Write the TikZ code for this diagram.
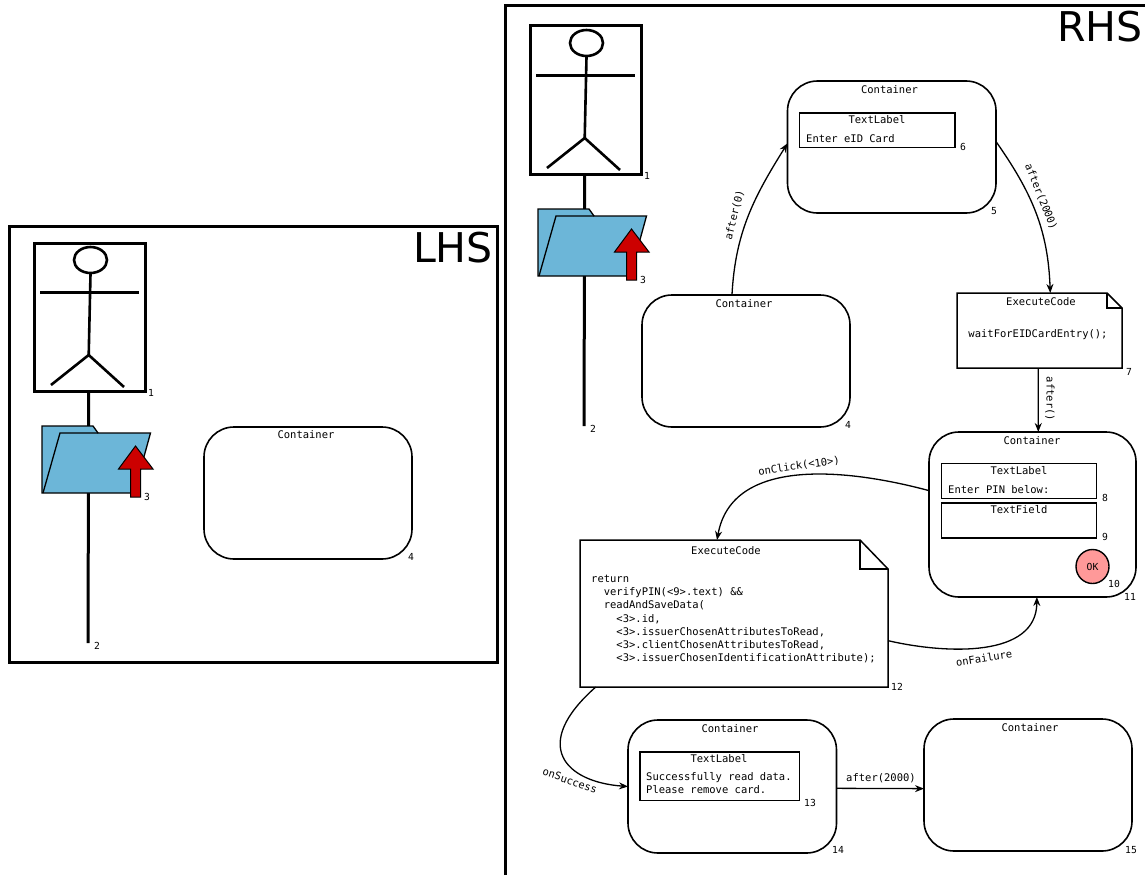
\documentclass[tikz,border=0pt]{standalone}
\usepackage{fontspec}
\setmainfont{DejaVu Sans}
\setmonofont{DejaVu Sans Mono}
\usepackage{xcolor}
\usepackage{tikz}
\usetikzlibrary{arrows.meta, calc, shapes.geometric}
\definecolor{myblue}{RGB}{108,182,216}
\definecolor{myred}{RGB}{204,0,0}
\definecolor{mypink}{RGB}{255,153,153}
\tikzset{
  framebox/.style={line width=3pt},
  sidelabel/.style={font=\fontsize{41}{41}\selectfont, inner sep=0pt, anchor=east},
  containerbox/.style={draw, rounded corners=30pt, line width=1.6pt, inner sep=0pt, outer sep=0pt},
  widgetbox/.style={draw, line width=1.8pt, inner sep=0pt, outer sep=0pt},
  notebox/.style={inner sep=0pt, outer sep=0pt},
  notefold/.style={line width=1.5pt, line join=miter},
  boxsize/.style 2 args={minimum width=#1pt, minimum height=#2pt},
  codetext/.style={font=\ttfamily\fontsize{10.5}{13.2}\selectfont, inner sep=0pt},
  numtext/.style={font=\ttfamily\fontsize{9.7}{10}\selectfont, inner sep=0pt},
  edgelabel/.style={font=\ttfamily\fontsize{10.5}{12}\selectfont, inner sep=0pt},
  transition/.style={-{Stealth[length=9pt,width=7pt]}, line width=1.3pt},
  actorfolder/.pic={
    % Actor
    \draw[line width=3pt] (34,243) rectangle (145,391);
    \draw[line width=2.6pt] (90.5,260) ellipse [x radius=16.5, y radius=13];
    \draw[line width=2.6pt] (90.5,274) -- (88.7,355);
    \draw[line width=2.6pt] (40,292.5) -- (139,292.5);
    \draw[line width=2.6pt] (51,385) -- (88.7,355) -- (124,387);
    % Lifeline
    \draw[line width=3pt] (88.7,391) -- (88,643);
    % Folder
    \draw[fill=myblue, line width=1.3pt] (42,493) -- (42,426) -- (93,426) -- (98,433) -- (150.5,433)
      -- (134,493) -- cycle;
    \draw[line width=1.3pt] (43,493) -- (60,433) -- (98,433);
    % Red arrow
    \draw[fill=myred, line width=1pt] (130.5,497) -- (130.5,469) -- (118.5,469) -- (135.5,446)
      -- (153,469) -- (140.5,469) -- (140.5,497) -- cycle;
    \node[numtext] (num1) at (151,393) {1};
    \node[numtext] (num2) at (97,646) {2};
    \node[numtext] (num3) at (147,497) {3};
  },
}
% Folded note outline around a node
\newcommand{\dogear}[3]{
  \draw[notefold] (#1.south west) -- (#1.north west) -- ($(#1.north east)+(-#2,0)$)
    -- ($(#1.north east)+(0,#3)$) -- (#1.south east) -- cycle;
  \draw[notefold] ($(#1.north east)+(-#2,0)$) -- ($(#1.north east)+(-#2,#3)$)
    -- ($(#1.north east)+(0,#3)$);
}

\begin{document}
\begin{tikzpicture}[x=1pt, y=-1pt]
    \useasboundingbox (0,0) rectangle (1145,875);

    % LHS frame
    \draw[framebox] (9,226) rectangle (497,662);
    \node[sidelabel] (lhs) at (493,248) {LHS};
    \pic (lhsactor) at (0,0) {actorfolder};
    \node[containerbox, boxsize={208}{132}] (lcont4) at (308,493) {};
    \node[codetext] (ltitle4) at (306,435) {Container};
    \node[numtext] (lnum4) at (411,557) {4};

    % RHS frame
    \draw[framebox] (505,875) -- (505,6) -- (1145,6);
    \node[sidelabel] (rhs) at (1143,27) {RHS};
    \pic (rhsactor) at (496,-217) {actorfolder};

    % Container 4
    \node[containerbox, boxsize={208}{132}] (cont4) at (746,361) {};
    \node[codetext] (title4) at (744,304) {Container};
    \node[numtext] (num4) at (848,425) {4};

    % Container 5
    \node[containerbox, boxsize={208.5}{132}] (cont5) at (891.75,147) {};
    \node[codetext] (title5) at (889.5,90) {Container};
    \node[numtext] (num5) at (994,211) {5};
    \node[widgetbox, boxsize={155.5}{34.5}] (label6) at (877.25,130.25) {};
    \node[codetext] (title6) at (877,120) {TextLabel};
    \node[codetext, anchor=west] (text6) at (806,139) {Enter eID Card};
    \node[numtext] (num6) at (963,147) {6};

    % ExecuteCode 7
    \node[notebox, boxsize={165}{75}] (note7) at (1039.5,330.5) {};
    \dogear{note7}{15}{15}
    \node[codetext] (title7) at (1041,301.5) {ExecuteCode};
    \node[codetext] (text7) at (1038,335) {waitForEIDCardEntry();};
    \node[numtext] (num7) at (1129,372) {7};

    % Container 11
    \node[containerbox, boxsize={207}{165}] (cont11) at (1032.5,514.5) {};
    \node[codetext] (title11) at (1032,441) {Container};
    \node[widgetbox, boxsize={155}{35}] (label8) at (1019,481) {};
    \node[codetext] (title8) at (1019,470.5) {TextLabel};
    \node[codetext, anchor=west] (text8) at (948,490) {Enter PIN below:};
    \node[numtext] (num8) at (1105,498) {8};
    \node[widgetbox, boxsize={155}{35}] (field9) at (1019,520.5) {};
    \node[codetext] (title9) at (1019,510) {TextField};
    \node[numtext] (num9) at (1105,537) {9};
    \node[draw, ellipse, fill=mypink, line width=1.4pt, inner sep=0pt, outer sep=0pt,
      boxsize={33}{34}] (ok10) at (1092.5,566.5) {};
    \node[numtext] (oktext) at (1092.5,566.5) {OK};
    \node[numtext] (num10) at (1114,584) {10};
    \node[numtext] (num11) at (1130,596.5) {11};

    % ExecuteCode 12
    \node[notebox, boxsize={308}{147}] (note12) at (734,613.5) {};
    \dogear{note12}{28}{29}
    \node[codetext] (title12) at (726,551) {ExecuteCode};
    \node[codetext, anchor=north west, align=left] (text12) at (591,575) {return\\
      \ \ verifyPIN(<9>.text) \&\&\\
      \ \ readAndSaveData(\\
      \ \ \ \ <3>.id,\\
      \ \ \ \ <3>.issuerChosenAttributesToRead,\\
      \ \ \ \ <3>.clientChosenAttributesToRead,\\
      \ \ \ \ <3>.issuerChosenIdentificationAttribute);};
    \node[numtext] (num12) at (897,687) {12};

    % Container 14
    \node[containerbox, boxsize={208.5}{133}] (cont14) at (732.25,786.5) {};
    \node[codetext] (title14) at (730,729) {Container};
    \node[widgetbox, boxsize={159.5}{48.5}] (label13) at (719.75,776.25) {};
    \node[codetext] (title13) at (719,759) {TextLabel};
    \node[codetext, anchor=north west, align=left] (text13) at (646,772) {Successfully read data.\\
      Please remove card.};
    \node[numtext] (num13) at (810,802.5) {13};
    \node[numtext] (num14) at (838,850) {14};

    % Container 15
    \node[containerbox, boxsize={208}{132}] (cont15) at (1028,785) {};
    \node[codetext] (title15) at (1030,728) {Container};
    \node[numtext] (num15) at (1131,850) {15};

    % Transitions
    \draw[transition] (cont4.102) to[out=87, in=238] (cont5.178);
    \node[edgelabel, rotate=76] (lab0) at (734.5,215) {after(0)};
    \draw[transition] (cont5.3) to[out=-55, in=92] (note7.74);
    \node[edgelabel, rotate=-68] (lab2000a) at (1041,197) {after(2000)};
    \draw[transition] (note7.-92) -- (cont11.86);
    \node[edgelabel, rotate=-90] (labempty) at (1050,399) {after()};
    \draw[transition] (cont11.167) to[out=165, in=80] (note12.103);
    \node[edgelabel, rotate=8] (labclick) at (799,466) {onClick(<10>)};
    \draw[transition] (note12.-10) to[out=-13, in=-90] (cont11.-87);
    \node[edgelabel, rotate=9] (labfail) at (984,658) {onFailure};
    \draw[transition] (note12.208) .. controls (530,745) and (565,782) .. (cont14.west);
    \node[edgelabel, rotate=-19] (labsucc) at (570,780.5) {onSuccess};
    \draw[transition] (cont14.-1) -- (cont15.182);
    \node[edgelabel] (lab2000b) at (881,778) {after(2000)};
  \end{tikzpicture}
\end{document}
